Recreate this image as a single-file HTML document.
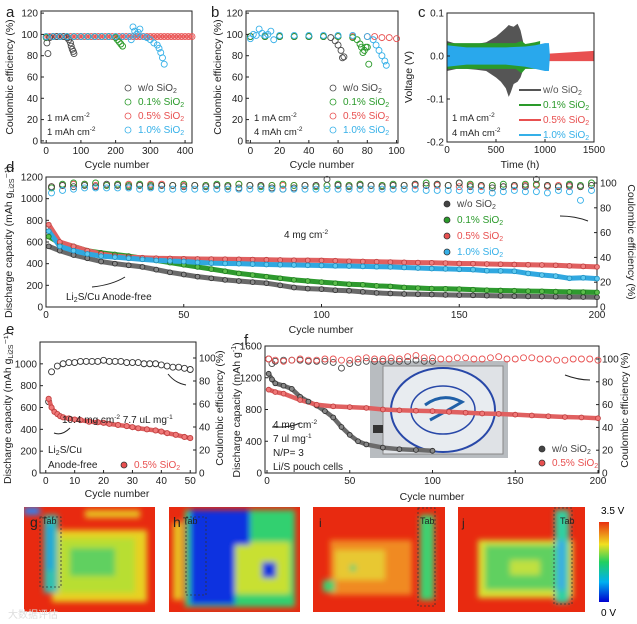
<!DOCTYPE html>
<html><head><meta charset="utf-8">
<style>
html,body{margin:0;padding:0;background:#fff;}
svg{display:block;font-family:"Liberation Sans",Arial,sans-serif;}
</style></head>
<body>
<svg id="fig" width="637" height="624" viewBox="0 0 637 624" xmlns="http://www.w3.org/2000/svg">
<defs>
<filter id="bl" x="-20%" y="-20%" width="140%" height="140%"><feGaussianBlur stdDeviation="3"/></filter>
<linearGradient id="cbar" x1="0" y1="1" x2="0" y2="0">
<stop offset="0" stop-color="#0000d0"/><stop offset="0.25" stop-color="#00b0f0"/><stop offset="0.5" stop-color="#20d060"/><stop offset="0.72" stop-color="#f0e020"/><stop offset="1" stop-color="#e83010"/></linearGradient>
<clipPath id="cg"><rect x="24" y="507" width="131" height="105"/></clipPath>
<clipPath id="ch"><rect x="169" y="507" width="131" height="105"/></clipPath>
<clipPath id="ci"><rect x="313" y="507" width="132" height="105"/></clipPath>
<clipPath id="cj"><rect x="458" y="507" width="127" height="105"/></clipPath>
</defs>

<g clip-path="url(#cg)">
<rect x="24" y="507" width="131" height="105" fill="#e82a10"/>
<g filter="url(#bl)">
<rect x="52" y="530" width="95" height="72" fill="#e8d020"/>
<rect x="60" y="538" width="75" height="55" fill="#b8de30"/>
<rect x="70" y="548" width="45" height="28" fill="#60d060"/>
<rect x="44" y="515" width="14" height="78" fill="#30c0b0"/>
<rect x="47" y="525" width="6" height="45" fill="#20a0e0"/>
<rect x="85" y="510" width="55" height="8" fill="#e8c020"/>
<rect x="24" y="507" width="16" height="8" fill="#3080f0"/>
</g>
<text x="30" y="527" font-size="14" fill="#222">g</text><text x="42" y="524" font-size="9" fill="#222">Tab</text>
<rect x="40" y="517" width="21" height="70" fill="none" stroke="#333" stroke-dasharray="2,2" stroke-width="0.8"/>
</g>
<g clip-path="url(#ch)">
<rect x="169" y="507" width="131" height="105" fill="#e82a10"/>
<g filter="url(#bl)">
<rect x="185" y="510" width="110" height="97" fill="#30d070"/>
<rect x="232" y="542" width="58" height="52" fill="#c8e030"/>
<rect x="190" y="510" width="45" height="95" fill="#0a30e0"/>
<rect x="215" y="510" width="35" height="35" fill="#0a30e0"/>
<rect x="262" y="562" width="14" height="16" fill="#0a30e0"/>
<rect x="173" y="522" width="10" height="78" fill="#e8c020"/>
</g>
<text x="173" y="527" font-size="14" fill="#222">h</text><text x="183" y="524" font-size="9" fill="#222">Tab</text>
<rect x="186" y="517" width="20" height="78" fill="none" stroke="#333" stroke-dasharray="2,2" stroke-width="0.8"/>
</g>
<g clip-path="url(#ci)">
<rect x="313" y="507" width="132" height="105" fill="#e82a10"/>
<g filter="url(#bl)">
<rect x="330" y="540" width="82" height="55" fill="#f08a20"/>
<rect x="335" y="550" width="50" height="30" fill="#e8c830"/>
<rect x="420" y="515" width="14" height="85" fill="#40d070"/>
<rect x="323" y="580" width="12" height="12" fill="#40d070"/>
<rect x="350" y="565" width="6" height="6" fill="#40d070"/>
</g>
<text x="319" y="527" font-size="12" fill="#222">i</text><text x="420" y="524" font-size="9" fill="#222">Tab</text>
<rect x="418" y="508" width="17" height="98" fill="none" stroke="#333" stroke-dasharray="2,2" stroke-width="0.8"/>
</g>
<g clip-path="url(#cj)">
<rect x="458" y="507" width="127" height="105" fill="#e82a10"/>
<g filter="url(#bl)">
<rect x="478" y="540" width="95" height="58" fill="#d8e030"/>
<rect x="485" y="545" width="80" height="45" fill="#60d060"/>
<rect x="555" y="510" width="14" height="93" fill="#30d0a0"/>
<rect x="558" y="540" width="7" height="50" fill="#40a8e8"/>
<rect x="510" y="560" width="30" height="15" fill="#c0e040"/>
</g>
<text x="462" y="527" font-size="12" fill="#222">j</text><text x="560" y="524" font-size="9" fill="#222">Tab</text>
<rect x="554" y="508" width="18" height="96" fill="none" stroke="#333" stroke-dasharray="2,2" stroke-width="0.8"/>
</g>
<rect x="599" y="522" width="10" height="80" fill="url(#cbar)"/>
<text x="601" y="514" font-size="10">3.5 V</text>
<text x="601" y="616" font-size="10">0 V</text>
<text x="8" y="618" font-size="10" fill="#ddd">大数据评估</text>

<g>
<rect x="370" y="361" width="138" height="97" fill="#b8bcc0"/>
<rect x="383" y="366" width="120" height="88" fill="#dfe2e6" stroke="#888"/>
<ellipse cx="443" cy="410" rx="52" ry="42" fill="#e8ecf0" stroke="#2848a8" stroke-width="2"/>
<ellipse cx="443" cy="410" rx="32" ry="24" fill="none" stroke="#2848a8" stroke-width="1.5"/>
<path d="M425 405 Q443 392 462 402 Q445 412 430 420" fill="none" stroke="#2060a8" stroke-width="3"/>
<rect x="373" y="425" width="10" height="8" fill="#333"/>
</g>
<g id="plots"></g>
</svg>
<script>
const NS='http://www.w3.org/2000/svg';
const P=document.getElementById('plots');
function mk(tag,at,par){const e=document.createElementNS(NS,tag);for(const k in at)e.setAttribute(k,at[k]);(par||P).appendChild(e);return e;}
const C={gray:'#4a4a4a',green:'#2a9a2a',red:'#e85050',blue:'#35b0e8'};

/* ---------- data ---------- */
const aWoX=[2,5,10,20,30,40,50,60,65,70,72,75,78,80];
const aWoY=[92,82,97,98,98,98,98,97,95,92,89,86,84,82];
const a01X=[0,20,40,60,80,100,120,140,160,180,200,205,210,215,220];
const a01Y=[97,98,98,98,98,98,98,98,98,98,97,95,93,91,89];
const a05X=[0,10,20,30,40,50,60,70,80,90,100,110,120,130,140,150,160,170,180,190,200,210,220,230,240,250,260,270,280,290,300,310,320,330,340,350,360,370,380,390,400,410,420];
const a05Y=[98,98,98,98,98,98,98,98,98,98,98,98,98,98,98,98,98,98,98,98,98,98,98,98,98,98,98,98,98,98,98,98,98,98,98,98,98,98,98,98,98,98,98];
const a10X=[0,20,40,60,80,100,120,140,160,180,200,220,240,245,250,255,260,265,270,280,290,300,310,320,325,330,335,340];
const a10Y=[98,98,98,98,98,98,98,98,98,98,98,98,98,95,107,103,100,102,105,98,97,95,92,90,87,83,78,72];
const bWoX=[0,10,20,30,40,50,55,58,60,62,63,64];
const bWoY=[98,98,98,98,98,98,97,94,90,85,78,79];
const b01X=[0,10,20,30,40,50,60,70,73,75,76,77,78,79,80,81];
const b01Y=[98,98,98,98,98,98,98,97,95,91,88,83,85,88,88,72];
const b05X=[0,10,20,30,40,50,60,70,80,85,90,95,100];
const b05Y=[98,98,98,98,98,98,98,98,98,98,97,97,96];
const b10X=[0,2,4,6,8,10,12,14,16,20,30,40,50,60,70,80,84,86,88,90,92,93];
const b10Y=[96,100,99,105,101,99,100,103,95,99,99,99,99,99,99,98,95,90,85,80,75,71];
const cT=[0,100,200,300,400,500,550,600,630,650,680,720,750,780];
const cWoHi=[0.035,0.028,0.027,0.028,0.032,0.045,0.055,0.065,0.072,0.07,0.068,0.075,0.06,0.03];
const cWoLo=[-0.035,-0.03,-0.03,-0.032,-0.035,-0.05,-0.06,-0.075,-0.095,-0.085,-0.065,-0.06,-0.05,-0.03];
const cGrT=[0,700,760,800,900,950];
const cGrHi=[0.03,0.03,0.035,0.028,0.032,0.035];
const cGrLo=[-0.03,-0.03,-0.04,-0.03,-0.03,-0.03];
const cBlT=[0,200,400,600,800,900,1000,1040,1050];
const cBlHi=[0.025,0.02,0.02,0.02,0.022,0.025,0.03,0.03,0];
const cBlLo=[-0.025,-0.02,-0.02,-0.02,-0.025,-0.03,-0.035,-0.035,0];
const cRdT=[1000,1500];
const cRdHi=[0.005,0.012];
const cRdLo=[-0.012,-0.012];
const dX=[1,5,10,15,20,25,30,35,40,45,50,55,60,65,70,75,80,85,90,95,100,105,110,115,120,125,130,135,140,145,150,155,160,165,170,175,180,185,190,195,200];
const dWo=[560,520,480,450,420,400,385,370,345,320,300,280,265,250,240,230,220,200,180,170,165,155,150,140,130,125,120,118,115,112,110,108,105,103,100,98,97,95,93,92,90];
const d01=[650,590,560,520,500,485,470,450,430,410,390,370,350,330,310,295,280,265,250,240,230,220,210,205,195,190,180,175,170,168,165,160,155,152,150,147,145,142,140,138,135];
const d05=[760,600,560,520,490,470,460,455,450,448,445,443,442,441,440,438,436,434,432,431,430,427,423,420,418,415,412,410,408,405,402,400,397,395,392,390,388,385,380,375,370];
const d10=[700,560,520,490,470,460,450,440,430,425,420,412,405,402,400,396,392,390,388,385,383,380,378,375,372,370,365,360,355,352,348,345,335,333,330,310,295,285,265,270,262];
const dCeX=[2,6,10,14,18,22,26,30,34,38,42,46,50,54,58,62,66,70,74,78,82,86,90,94,98,102,106,110,114,118,122,126,130,134,138,142,146,150,154,158,162,166,170,174,178,182,186,190,194,198];
const dCeWo=[97,98,97,98,97,99,98,97,98,97,98,98,97,98,97,98,97,96,98,98,96,95,96,98,98,103,98,97,98,98,97,98,98,99,98,99,98,100,97,98,96,97,98,97,103,98,97,98,97,98];
const dCe01=[96,99,100,99,100,98,99,98,99,98,98,98,99,98,98,99,98,99,98,97,98,99,98,98,97,98,99,98,99,98,98,99,98,99,100,99,98,100,99,98,98,99,98,99,99,98,97,99,98,100];
const dCe05=[97,98,99,99,98,98,99,99,98,99,99,98,98,98,98,98,98,99,98,98,98,98,98,98,98,98,98,98,99,98,98,98,98,98,98,98,98,97,98,97,98,97,97,98,98,97,98,97,97,98];
const dCe10=[92,94,95,96,96,96,96,96,95,96,95,95,95,95,95,95,95,95,95,95,95,95,95,95,95,95,95,95,95,95,95,95,95,95,94,94,94,94,94,94,92,93,94,93,93,92,94,93,86,94];
const eX=[1,2,3,4,5,6,8,10,12,15,18,20,22,25,28,30,32,35,38,40,42,45,48,50];
const eCap=[680,600,560,540,520,510,500,490,485,470,465,460,450,440,430,420,410,400,390,380,365,350,330,320];
const eCeX=[1,2,4,6,8,10,12,14,16,18,20,22,24,26,28,30,32,34,36,38,40,42,44,46,48,50];
const eCe=[62,88,93,95,96,96,97,97,97,97,98,97,97,97,96,96,96,95,95,95,94,93,92,92,91,90];
const fWoX=[1,3,5,10,15,20,25,30,35,40,45,50,55,60,70,80,90,100];
const fWo=[1250,1180,1130,1100,1060,960,900,850,780,700,580,480,400,360,320,300,290,280];
const f05X=[1,5,10,20,30,40,50,60,70,80,90,100,110,120,130,140,150,160,170,180,190,200];
const f05=[1050,1020,1000,920,860,840,830,820,800,790,785,780,770,760,750,745,735,725,715,705,700,690];
const fCeWoX=[1,3,5,10,15,20,25,30,35,40,45,50,55,60,65,70,75,80,85,90,95,100];
const fCeWo=[100,96,98,99,99,99,98,98,98,97,92,96,97,98,98,98,98,98,98,99,98,98];
const fCe05X=[1,5,10,15,20,25,30,35,40,45,50,55,60,65,70,75,80,85,90,95,100,105,110,115,120,125,130,135,140,145,150,155,160,165,170,175,180,185,190,195,200];
const fCe05=[100,99,98,99,100,99,99,100,100,99,99,100,101,100,100,101,100,102,103,101,101,100,100,101,101,100,100,101,102,100,100,101,101,100,100,99,99,100,100,100,99];

/* ---------- helpers ---------- */
function scale(d0,d1,r0,r1){return v=>r0+(v-d0)*(r1-r0)/(d1-d0);}
function box(x0,y0,x1,y1,name){const r=mk('rect',{x:x0,y:y0,width:x1-x0,height:y1-y0,fill:'none',stroke:'#222','stroke-width':1});

}
function text(x,y,s,opt){const t=mk('text',Object.assign({x:x,y:y,'font-size':10,fill:'#222'},opt||{}));t.textContent=s;return t;}
function xticks(sx,vals,y,name){vals.forEach(v=>{const l=mk('line',{x1:sx(v),x2:sx(v),y1:y,y2:y-3,stroke:'#222'});


const t=text(sx(v),y+11,String(v),{'text-anchor':'middle'});

});}
function yticks(sy,vals,x,name,right,lab){vals.forEach((v,i)=>{const l=mk('line',{x1:x,x2:right?x-3:x+3,y1:sy(v),y2:sy(v),stroke:'#222'});


const t=text(right?x+3:x-3,sy(v)+3.5,lab?lab[i]:String(v),{'text-anchor':right?'start':'end'});

});}
function pts(xs,ys,sx,sy,col,name,fill,r){xs.forEach((x,i)=>{const c=mk('circle',{cx:sx(x),cy:sy(ys[i]),r:r||3,fill:fill||'none',stroke:col,'stroke-width':0.9});

});}
function trail(xs,ys,sx,sy,col,name,w){const p=mk('polyline',{points:xs.map((x,i)=>sx(x)+','+sy(ys[i])).join(' '),fill:'none',stroke:col,'stroke-width':w||5,'stroke-linejoin':'round','stroke-linecap':'round'});

}
function ytitle(x,y,s,name,rot){const t=text(x,y,s,{'text-anchor':'middle',transform:'rotate('+(rot||-90)+' '+x+' '+y+')','font-size':10.5});

return t;}
function legend(items,x,y,dy,name,filled){items.forEach((it,i)=>{const c=mk('circle',{cx:x,cy:y+i*dy-3,r:3,fill:filled?it[1]:'none',stroke:filled?'#333':it[1],'stroke-width':0.8});


const t=mk('text',{x:x+10,y:y+i*dy,'font-size':10,fill:it[1]});
t.innerHTML=it[0];

});}
const L=[['w/o SiO<tspan font-size="7" dy="2">2</tspan>','#444'],['0.1% SiO<tspan font-size="7" dy="2">2</tspan>',C.green],['0.5% SiO<tspan font-size="7" dy="2">2</tspan>',C.red],['1.0% SiO<tspan font-size="7" dy="2">2</tspan>',C.blue]];
function plabel(x,y,s){const t=text(x,y,s,{'font-size':15});

}
function sup(x,y,a,b){text(x,y,'',{'font-size':9.5}).innerHTML=a+'<tspan font-size="6.5" dy="-4">'+b+'</tspan>';}

/* ---------- panel a ---------- */
{const sx=scale(-15,420,41,192),sy=scale(-2,122,143,11);
box(41,11,192,143,'panel-a-plot-area');
trail(a05X,a05Y,sx,sy,'#f08080','a-band-05',4);
pts(a05X,a05Y,sx,sy,C.red,'a-series-05');pts(a01X,a01Y,sx,sy,C.green,'a-series-01');pts(aWoX,aWoY,sx,sy,C.gray,'a-series-wo');pts(a10X,a10Y,sx,sy,C.blue,'a-series-10');
xticks(sx,[0,100,200,300,400],143,'a-x');yticks(sy,[0,20,40,60,80,100,120],41,'a-y');
text(117,168,'Cycle number',{'text-anchor':'middle','font-size':10.5});
ytitle(13,77,'Coulombic efficiency (%)','a-y-title');
legend(L,128,91,14,'a-legend');
sup(47,121,'1 mA cm','-2');sup(47,135,'1 mAh cm','-2');
plabel(6,17,'a');}
/* ---------- panel b ---------- */
{const sx=scale(-3,101,246,398),sy=scale(-2,122,143,11);
box(246,11,398,143,'panel-b-plot-area');
pts(b05X,b05Y,sx,sy,C.red,'b-series-05');pts(bWoX,bWoY,sx,sy,C.gray,'b-series-wo');pts(b01X,b01Y,sx,sy,C.green,'b-series-01');pts(b10X,b10Y,sx,sy,C.blue,'b-series-10');
xticks(sx,[0,20,40,60,80,100],143,'b-x');yticks(sy,[0,20,40,60,80,100,120],246,'b-y');
text(322,168,'Cycle number',{'text-anchor':'middle','font-size':10.5});
ytitle(221,77,'Coulombic efficiency (%)','b-y-title');
legend(L,333,91,14,'b-legend');
sup(254,121,'1 mA cm','-2');sup(254,135,'4 mAh cm','-2');
plabel(211,17,'b');}
/* ---------- panel c ---------- */
{const sx=scale(0,1500,447,594),sy=scale(-0.2,0.1,142,13);
function band(T,H,Lo,col,name){let d='M'+T.map((t,i)=>sx(t)+' '+sy(H[i])).join(' L')+' L'+T.slice().reverse().map((t,i)=>sx(t)+' '+sy(Lo[T.length-1-i])).join(' L')+'Z';
const p=mk('path',{d:d,fill:col});

}
band(cRdT,cRdHi,cRdLo,C.red,'c-series-05');band(cT,cWoHi,cWoLo,'#555','c-series-wo');band(cGrT,cGrHi,cGrLo,C.green,'c-series-01');band(cBlT,cBlHi,cBlLo,'#29a8ec','c-series-10');
box(447,13,594,142,'panel-c-plot-area');
xticks(sx,[0,500,1000,1500],142,'c-x');
yticks(sy,[-0.2,-0.1,0.0,0.1],447,'c-y',false,['-0.2','-0.1','0.0','0.1']);
text(520,168,'Time (h)',{'text-anchor':'middle','font-size':10.5});
ytitle(412,77,'Voltage (V)','c-y-title');
[['w/o SiO<tspan font-size="7" dy="2">2</tspan>','#555'],L[1],L[2],L[3]].forEach((it,i)=>{const y=93+i*15;
const l=mk('line',{x1:519,x2:541,y1:y-3,y2:y-3,stroke:it[1],'stroke-width':2});


const t=mk('text',{x:543,y:y,'font-size':10,fill:it[1]});t.innerHTML=it[0];

});
sup(452,121,'1 mA cm','-2');sup(452,136,'4 mAh cm','-2');
plabel(418,17,'c');}
/* ---------- panel d ---------- */
{const sx=scale(0,200,46,597),sy=scale(0,1200,307,177),sr=scale(0,100,307,183);
box(46,177,597,307,'panel-d-plot-area');
pts(dCeX,dCe05,sx,sr,C.red,'d-ce-05');pts(dCeX,dCe01,sx,sr,C.green,'d-ce-01');pts(dCeX,dCeWo,sx,sr,C.gray,'d-ce-wo');pts(dCeX,dCe10,sx,sr,C.blue,'d-ce-10');
trail(dX,dWo,sx,sy,'#6a6a6a','d-cap-wo-line');trail(dX,d01,sx,sy,'#2e9a2e','d-cap-01-line');trail(dX,d05,sx,sy,'#e06060','d-cap-05-line');trail(dX,d10,sx,sy,'#30a8e0','d-cap-10-line');
pts(dX,dWo,sx,sy,'#333','d-cap-wo','#888',2.4);pts(dX,d01,sx,sy,'#1f7a1f','d-cap-01','#5cbf4c',2.4);pts(dX,d05,sx,sy,'#c04040','d-cap-05','#f08080',2.4);pts(dX,d10,sx,sy,'#2090c0','d-cap-10','#5cc8f0',2.4);
xticks(sx,[0,50,100,150,200],307,'d-x');yticks(sy,[0,200,400,600,800,1000,1200],46,'d-y');
yticks(sr,[0,20,40,60,80,100],597,'d-y2',true);
text(321,333,'Cycle number',{'text-anchor':'middle','font-size':10.5});
ytitle(12,242,'','d-y-title').innerHTML='Discharge capacity (mAh g<tspan font-size="7" dy="2">Li2S</tspan><tspan dy="-2">⁻¹)</tspan>';
ytitle(628,242,'Coulombic efficiency (%)','d-y2-title',90);
legend(L,447,207,16,'d-legend',true);
text(284,238,'',{'font-size':10}).innerHTML='4 mg cm<tspan font-size="6.5" dy="-4">-2</tspan>';
text(66,300,'',{'font-size':10}).innerHTML='Li<tspan font-size="7" dy="2">2</tspan><tspan dy="-2">S/Cu Anode-free</tspan>';
mk('path',{d:'M125 277 Q112 285 92 287',fill:'none',stroke:'#222'});
mk('path',{d:'M560 216 Q575 216 588 221',fill:'none',stroke:'#222'});
plabel(6,172,'d');}
/* ---------- panel e ---------- */
{const sx=scale(-2,52,40,196),sy=scale(0,1200,473,342),sr=scale(0,100,473,358);
box(40,342,196,473,'panel-e-plot-area');
pts(eCeX,eCe,sx,sr,'#333','e-ce-05');
trail(eX,eCap,sx,sy,'#e06060','e-cap-line',4.5);
pts(eX,eCap,sx,sy,'#c04040','e-cap-05','#f07878',2.6);
xticks(sx,[0,10,20,30,40,50],473,'e-x');yticks(sy,[0,200,400,600,800,1000],40,'e-y');
yticks(sr,[0,20,40,60,80,100],196,'e-y2',true);
text(117,497,'Cycle number',{'text-anchor':'middle','font-size':10.5});
ytitle(11,408,'','e-y-title').innerHTML='Discharge capacity (mAh g<tspan font-size="7" dy="2">Li2S</tspan><tspan dy="-2">⁻¹)</tspan>';
ytitle(223,408,'Coulombic efficiency (%)','e-y2-title');
text(62,423,'',{'font-size':10}).innerHTML='10.4 mg cm<tspan font-size="6.5" dy="-4">-2</tspan><tspan dy="4"> 7.7 uL mg</tspan><tspan font-size="6.5" dy="-4">-1</tspan>';
text(48,453,'',{'font-size':10}).innerHTML='Li<tspan font-size="7" dy="2">2</tspan><tspan dy="-2">S/Cu</tspan>';
text(48,468,'Anode-free',{'font-size':10});
legend([['0.5% SiO<tspan font-size="7" dy="2">2</tspan>',C.red]],124,468,0,'e-legend',true);
mk('path',{d:'M70 428 Q62 436 54 433',fill:'none',stroke:'#222'});
mk('path',{d:'M168 374 Q175 383 186 385',fill:'none',stroke:'#222'});
plabel(6,334,'e');}
/* ---------- panel f ---------- */
{const sx=scale(0,200,267,598),sy=scale(0,1600,473,346),sr=scale(0,100,473,359);
box(265,346,599,473,'panel-f-plot-area');
pts(fCeWoX,fCeWo,sx,sr,C.gray,'f-ce-wo');pts(fCe05X,fCe05,sx,sr,C.red,'f-ce-05');
trail(fWoX,fWo,sx,sy,'#6a6a6a','f-cap-wo-line',4.5);trail(f05X,f05,sx,sy,'#e06060','f-cap-05-line',4.5);
pts(fWoX,fWo,sx,sy,'#333','f-cap-wo','#888',2.4);pts(f05X,f05,sx,sy,'#c04040','f-cap-05','#f07878',2.4);
xticks(sx,[0,50,100,150,200],473,'f-x');yticks(sy,[0,400,800,1200,1600],265,'f-y');
yticks(sr,[0,20,40,60,80,100],599,'f-y2',true);
text(432,500,'Cycle number',{'text-anchor':'middle','font-size':10.5});
ytitle(240,410,'','f-y-title').innerHTML='Discharge capacity (mAh g<tspan font-size="7" dy="-4">-1</tspan><tspan dy="4">)</tspan>';
ytitle(628,410,'Coulombic efficiency (%)','f-y2-title',-90);
[['4 mg cm<tspan font-size="6.5" dy="-4">-2</tspan>',428],['7 ul mg<tspan font-size="6.5" dy="-4">-1</tspan>',442],['N/P= 3',456],['Li/S pouch cells',470]].forEach(a=>{text(273,a[1],'',{'font-size':10}).innerHTML=a[0];});
legend([L[0],L[2]],542,452,14,'f-legend',true);
mk('path',{d:'M300 423 Q290 428 272 427',fill:'none',stroke:'#222'});
mk('path',{d:'M565 375 Q578 380 590 380',fill:'none',stroke:'#222'});
plabel(244,345,'f');}
</script>
</body></html>
